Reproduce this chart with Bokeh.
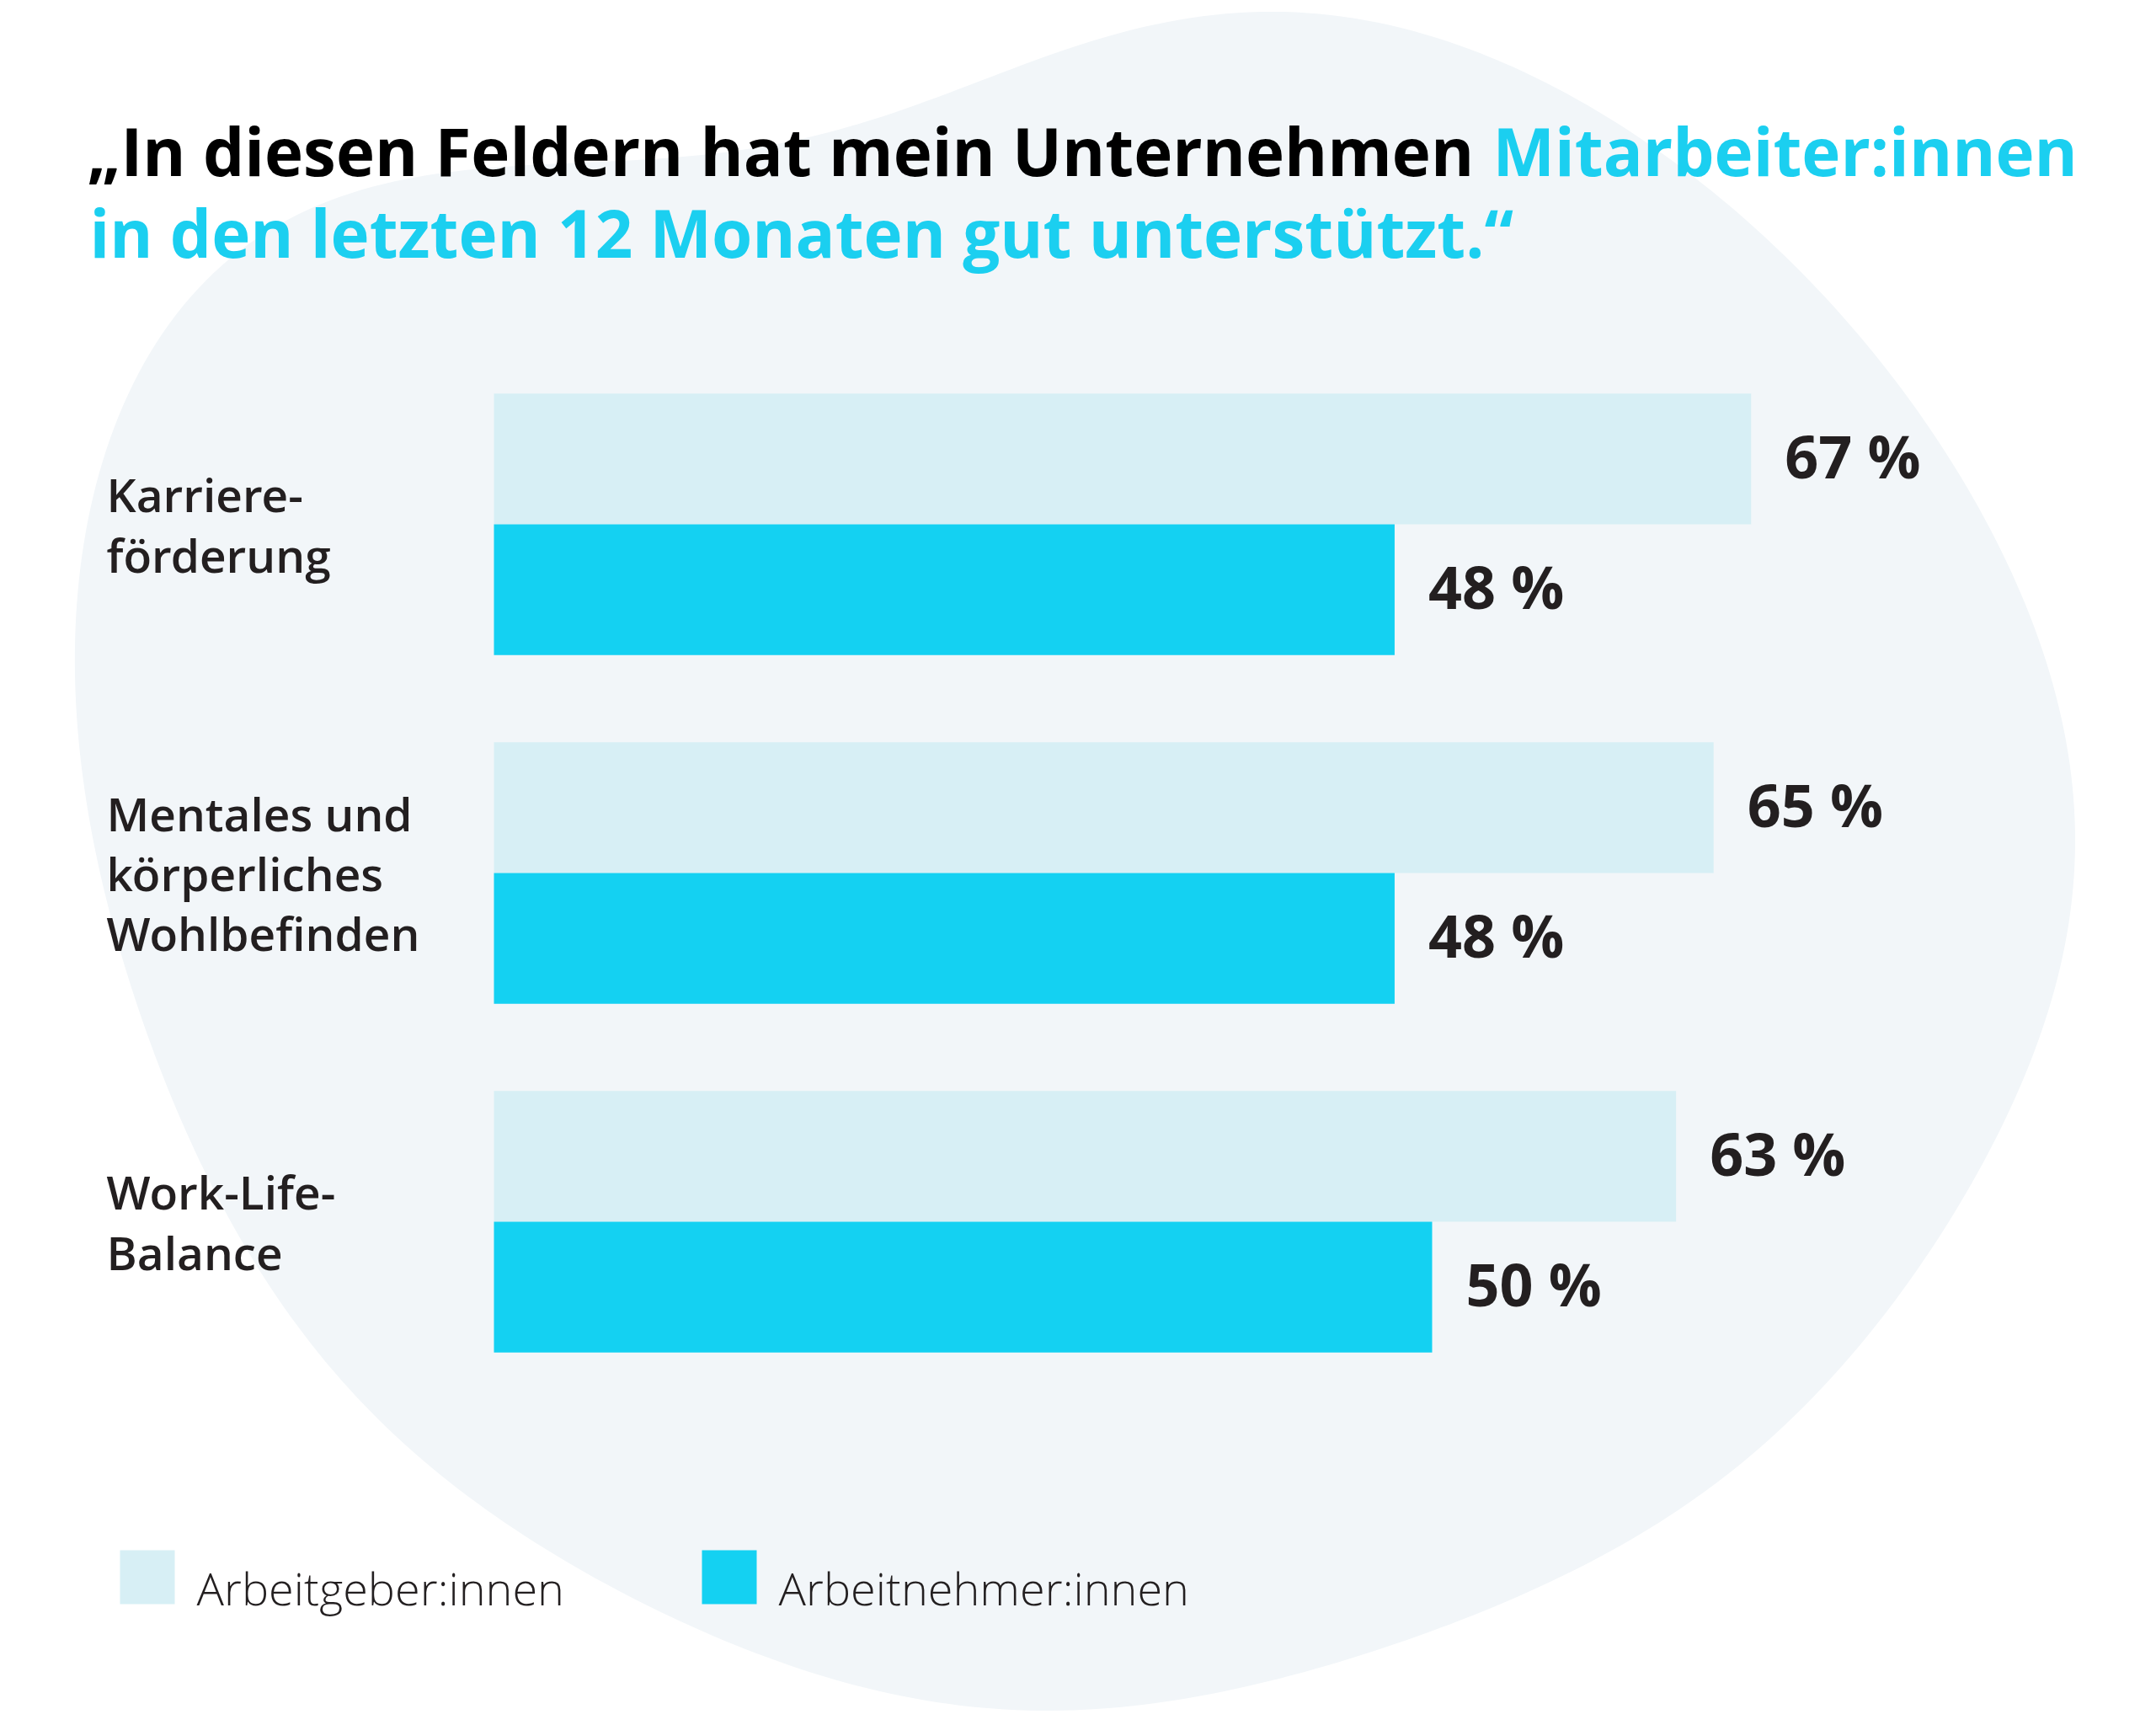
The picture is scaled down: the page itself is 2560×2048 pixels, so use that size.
import numpy as np
from bokeh.plotting import figure
from bokeh.models import Range1d, ColumnDataSource
from bokeh.transform import dodge
from bokeh.core.properties import value
from bokeh.embed import file_html
from bokeh.resources import INLINE

# ---------------- data ----------------
categories = ["Karriere-\nförderung",
              "Mentales und\nkörperliches\nWohlbefinden",
              "Work-Life-\nBalance"]
arbeitgeber = [67, 65, 63]
arbeitnehmer = [48, 48, 50]
series_names = ["Arbeitgeber:innen", "Arbeitnehmer:innen"]
title_black = "„In diesen Feldern hat mein Unternehmen"
title_cyan_1 = "Mitarbeiter:innen"
title_cyan_2 = "in den letzten 12 Monaten gut unterstützt.“"

# ---------------- styling ----------------
LIGHT = "#d7eff5"
DARK = "#14d1f2"
CYAN_TXT = "#1bcff0"
BLOB = "#f2f6f9"
TXT = "#231f20"
FONT = value("Open Sans")
FONT_SEMI = value("'Open Sans SemiBold', 'Open Sans'")
FONT_LIGHT = value("'Open Sans Light', 'Open Sans'")

W, H = 2544, 2032
PX_PER_PCT = 22.28
ZERO_X = 586
GROUP0 = 622
GROUP_STEP = 414.0
BAR_H = 0.375

p = figure(width=W, height=H, output_backend="svg", toolbar_location=None,
           x_axis_location=None, y_axis_location=None, min_border=0,
           x_range=Range1d(-ZERO_X / PX_PER_PCT, (W - ZERO_X) / PX_PER_PCT),
           y_range=Range1d((H - GROUP0) / GROUP_STEP, -GROUP0 / GROUP_STEP))
p.extra_x_ranges = {"px": Range1d(0, W)}
p.extra_y_ranges = {"px": Range1d(H, 0)}
p.xgrid.visible = False
p.ygrid.visible = False
p.outline_line_color = None
p.background_fill_color = "white"
p.border_fill_color = "white"

# ---------------- background blob (decoration, smoothed outline) ----------------
blob_pts = [(909, 8), (1040, 30), (1164, 81), (1292, 176), (1370, 267), (1434, 366),
            (1486, 478), (1512, 605), (1499, 703), (1460, 808), (1396, 914), (1318, 1020),
            (1215, 1102), (1066, 1175), (890, 1229), (758, 1246), (640, 1228), (536, 1196),
            (404, 1133), (272, 1026), (184, 919), (102, 735), (66, 612), (55, 485),
            (61, 398), (86, 304), (127, 228), (178, 178), (284, 132), (430, 116),
            (584, 104), (711, 58), (796, 27)]
S = 2560 / 1568
P = np.array(blob_pts, dtype=float) * S
seg = np.hypot(*np.diff(np.vstack([P, P[:1]]), axis=0).T)
t = np.concatenate([[0], np.cumsum(seg)[:-1]]) / seg.sum() * 2 * np.pi
K = 7
def basis(tt):
    cols = [np.ones_like(tt)]
    for k in range(1, K + 1):
        cols += [np.cos(k * tt), np.sin(k * tt)]
    return np.column_stack(cols)
A = basis(t)
cx, *_ = np.linalg.lstsq(A, P[:, 0], rcond=None)
cy, *_ = np.linalg.lstsq(A, P[:, 1], rcond=None)
tf = np.linspace(0, 2 * np.pi, 500, endpoint=False)
B = basis(tf)
p.patch(B @ cx, B @ cy, color=BLOB, line_color=None, x_range_name="px", y_range_name="px")

# ---------------- bars ----------------
src = ColumnDataSource(dict(
    idx=list(range(len(categories))),
    cat=categories,
    ag=arbeitgeber,
    an=arbeitnehmer,
    ag_lbl=[f"{v} %" for v in arbeitgeber],
    an_lbl=[f"{v} %" for v in arbeitnehmer],
))
p.hbar(y=dodge("idx", -BAR_H / 2), left=0, right="ag", height=BAR_H,
       color=LIGHT, line_color=None, source=src)
p.hbar(y=dodge("idx", BAR_H / 2), left=0, right="an", height=BAR_H,
       color=DARK, line_color=None, source=src)

lbl_kw = dict(x_offset=40, y_offset=-4, text_baseline="middle", text_align="left",
              text_font=FONT, text_font_style="bold", text_font_size="70px",
              text_color=TXT, source=src)
p.text(x="ag", y=dodge("idx", -BAR_H / 2), text="ag_lbl", **lbl_kw)
p.text(x="an", y=dodge("idx", BAR_H / 2), text="an_lbl", **lbl_kw)

# category labels
p.text(x=0, y="idx", text="cat", x_offset=-460, text_align="left", text_baseline="middle",
       text_line_height=0.95, text_font=FONT_SEMI, text_font_size="55px", text_color=TXT,
       source=src)

# ---------------- title ----------------
tkw = dict(text_font=FONT, text_font_style="bold", text_font_size="78px",
           text_baseline="alphabetic", text_align="left",
           x_range_name="px", y_range_name="px")
p.text(x=[103], y=[178], text=[title_black], text_color="black", **tkw)
p.text(x=[1772], y=[178], text=[title_cyan_1], text_color=CYAN_TXT, **tkw)
p.text(x=[106], y=[275], text=[title_cyan_2], text_color=CYAN_TXT, **tkw)

# ---------------- legend ----------------
leg_x = [142, 833]
p.rect(x=[x + 32.5 for x in leg_x], y=[1872] * 2, width=65, height=64,
       color=[LIGHT, DARK], line_color=None, x_range_name="px", y_range_name="px")
p.text(x=[x + 91 for x in leg_x], y=[1884] * 2, text=series_names,
       text_font=FONT_LIGHT, text_font_size="54px", text_color=TXT,
       text_baseline="alphabetic", x_range_name="px", y_range_name="px")

open("out.html", "w").write(file_html(p, INLINE))
